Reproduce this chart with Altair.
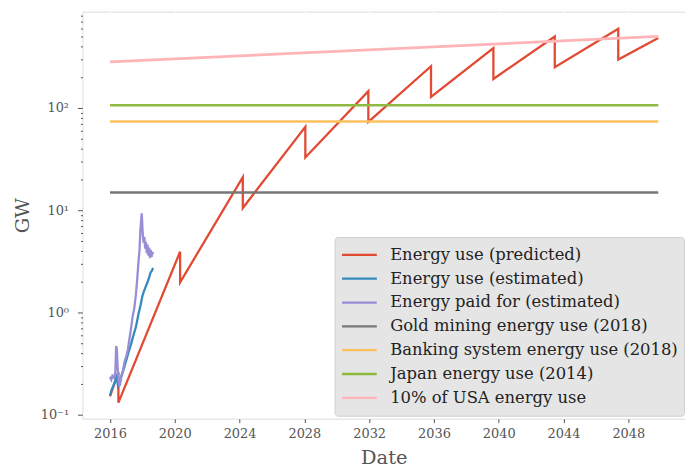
import altair as alt
import pandas as pd

series_names = [
    "Energy use (predicted)",
    "Energy use (estimated)",
    "Energy paid for (estimated)",
    "Gold mining energy use (2018)",
    "Banking system energy use (2018)",
    "Japan energy use (2014)",
    "10% of USA energy use",
]
colors = ["#E24A33", "#348ABD", "#988ED5", "#777777", "#FBC15E", "#8EBA42", "#FFB5B8"]
widths = [2.3, 2.3, 2.3, 2.5, 2.5, 2.5, 2.8]

red_x = [2016.0, 2016.52, 2016.52, 2020.33, 2020.33, 2024.2, 2024.2, 2028.06, 2028.06,
         2031.95, 2031.95, 2035.82, 2035.82, 2039.67, 2039.67, 2043.46, 2043.46,
         2047.38, 2047.38, 2049.85]
red_y = [0.151, 0.262, 0.131, 3.93, 1.97, 21.0, 10.5, 65.5, 32.8,
         146, 73, 256, 128, 385, 192, 500, 250, 594, 297, 482]

blue_x = [2016.0, 2016.1, 2016.2, 2016.3, 2016.4, 2016.5, 2016.58, 2016.7, 2016.85,
          2017.0, 2017.15, 2017.3, 2017.45, 2017.6, 2017.75, 2017.9, 2018.0, 2018.1,
          2018.2, 2018.3, 2018.4, 2018.5, 2018.58, 2018.66]
blue_y = [0.154, 0.175, 0.19, 0.21, 0.232, 0.19, 0.2, 0.235, 0.28,
          0.34, 0.41, 0.49, 0.6, 0.72, 0.95, 1.2, 1.45, 1.62,
          1.78, 1.95, 2.15, 2.45, 2.55, 2.72]

purple_x = [2016.0, 2016.08, 2016.15, 2016.25, 2016.33, 2016.38, 2016.42, 2016.47, 2016.53,
            2016.6, 2016.7, 2016.8, 2016.9, 2017.0, 2017.1, 2017.2, 2017.3, 2017.4, 2017.5,
            2017.6, 2017.68, 2017.75, 2017.82, 2017.88, 2017.96, 2018.02, 2018.07, 2018.12,
            2018.17, 2018.22, 2018.27, 2018.32, 2018.37, 2018.42, 2018.47, 2018.52, 2018.57,
            2018.62, 2018.66]
purple_y = [0.235, 0.22, 0.24, 0.23, 0.26, 0.47, 0.44, 0.30, 0.21,
            0.19, 0.24, 0.27, 0.33, 0.37, 0.43, 0.55, 0.7, 0.92, 1.1,
            1.5, 2.1, 3.0, 4.0, 6.5, 9.3, 6.0, 4.8, 5.5,
            4.2, 4.9, 3.8, 4.6, 3.6, 4.3, 3.4, 4.1, 3.5,
            3.9, 3.7]

ref_x = [2016.0, 2049.85]
gold_y = [14.9, 14.9]
banking_y = [73.8, 73.8]
japan_y = [106, 106]
usa_y = [282, 500]

x_ticks = [2016, 2020, 2024, 2028, 2032, 2036, 2040, 2044, 2048]
y_ticks = [0.1, 0.2, 0.3, 0.4, 0.5, 0.6, 0.7, 0.8, 0.9,
           1, 2, 3, 4, 5, 6, 7, 8, 9,
           10, 20, 30, 40, 50, 60, 70, 80, 90,
           100, 200, 300, 400, 500, 600, 700, 800]

series_data = [
    (red_x, red_y), (blue_x, blue_y), (purple_x, purple_y),
    (ref_x, gold_y), (ref_x, banking_y), (ref_x, japan_y), (ref_x, usa_y),
]

rows = []
for name, (xs, ys) in zip(series_names, series_data):
    for i, (xv, yv) in enumerate(zip(xs, ys)):
        rows.append({"series": name, "date": xv, "gw": yv, "idx": i})
df = pd.DataFrame(rows)

FONT = "DejaVu Serif"
major_test = "indexof([0.1, 1, 10, 100], datum.value) >= 0"

x_enc = alt.X(
    "date:Q",
    scale=alt.Scale(domain=[2014.3, 2051.5], nice=False, zero=False),
    axis=alt.Axis(values=x_ticks, format="d", title="Date", domain=False,
                  grid=True, gridColor="white", gridWidth=2,
                  tickColor="#555555", tickSize=4, tickWidth=1,
                  labelFont=FONT, labelFontSize=13, labelColor="#555555", labelPadding=5,
                  titleFont=FONT, titleFontSize=19.5, titleColor="#555555",
                  titleFontWeight="normal", titlePadding=8),
)
y_enc = alt.Y(
    "gw:Q",
    scale=alt.Scale(type="log", domain=[0.0914, 874], nice=False),
    axis=alt.Axis(values=y_ticks,
                  labelExpr="datum.value == 0.1 ? '10⁻¹' : datum.value == 1 ? '10⁰' : datum.value == 10 ? '10¹' : datum.value == 100 ? '10²' : ''",
                  title="GW", domain=False,
                  grid=True, gridColor="white", gridWidth=2,
                  gridOpacity={"condition": {"test": major_test, "value": 1}, "value": 0},
                  tickColor="#555555",
                  tickSize={"condition": {"test": major_test, "value": 5}, "value": 2},
                  tickWidth=1,
                  labelFont=FONT, labelFontSize=13, labelColor="#555555", labelPadding=9,
                  titleFont=FONT, titleFontSize=19.5, titleColor="#555555",
                  titleFontWeight="normal", titlePadding=8),
)
color_enc = alt.Color(
    "series:N",
    scale=alt.Scale(domain=series_names, range=colors),
    sort=series_names,
    legend=alt.Legend(title=None, orient="none", legendX=254, legendY=227,
                      fillColor="#E5E5E5", strokeColor="#D0D0D0", cornerRadius=3,
                      padding=6, symbolType="stroke", symbolSize=1225,
                      symbolStrokeWidth=2.3, labelFont=FONT, labelFontSize=16.5,
                      labelColor="#222222", labelOffset=12, rowPadding=0,
                      clipHeight=24, labelLimit=400),
)

base = alt.Chart(df)
layers = []
for name, w in zip(series_names, widths):
    layers.append(
        base.transform_filter(alt.datum.series == name)
        .mark_line(strokeWidth=w, clip=True)
        .encode(x=x_enc, y=y_enc, color=color_enc, order="idx:Q")
    )

chart = (
    alt.layer(*layers)
    .properties(width=607, height=410,
                autosize=alt.AutoSizeParams(type="none"),
                padding={"left": 75, "top": 2, "right": 0, "bottom": 50})
    .configure_view(fill="#E5E5E5", stroke=None)
    .configure(background="white")
)

chart.save("out.html", embed_options={"renderer": "svg", "actions": False})
